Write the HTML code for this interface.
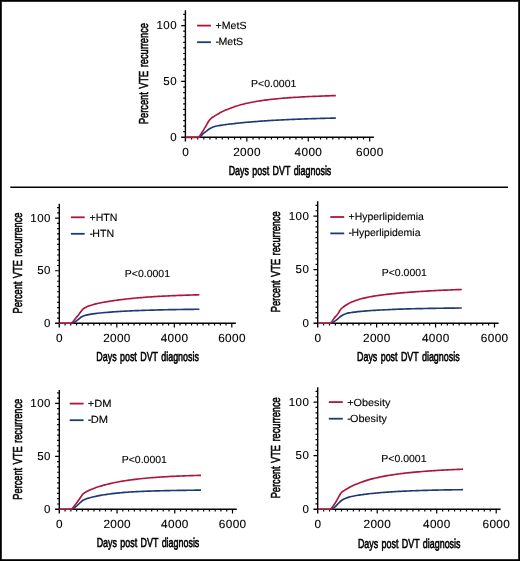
<!DOCTYPE html>
<html><head><meta charset="utf-8"><style>
html,body{margin:0;padding:0;background:#fff;}
body{width:520px;height:561px;overflow:hidden;}
svg{display:block;will-change:transform;}
text{font-family:"Liberation Sans", sans-serif;fill:#000;text-rendering:geometricPrecision;}
</style></head><body>
<svg width="520" height="561" viewBox="0 0 520 561">
<rect x="0" y="0" width="520" height="561" fill="#fff"/>
<rect x="0.9" y="0.9" width="518.2" height="559.2" fill="none" stroke="#000" stroke-width="1.8"/>
<path d="M10.3,187.3H508" stroke="#000" stroke-width="1.5"/>
<path d="M185.40,10.30 V141.50" stroke="#000" stroke-width="1.4" fill="none"/>
<path d="M181.20,137.30 H373.90" stroke="#000" stroke-width="1.4" fill="none"/>
<path d="M183.20,131.72H185.40M183.20,126.13H185.40M183.20,120.55H185.40M183.20,114.96H185.40M183.20,109.38H185.40M183.20,103.79H185.40M183.20,98.21H185.40M183.20,92.62H185.40M183.20,87.03H185.40M181.20,81.45H185.40M183.20,75.87H185.40M183.20,70.28H185.40M183.20,64.69H185.40M183.20,59.11H185.40M183.20,53.52H185.40M183.20,47.94H185.40M183.20,42.35H185.40M183.20,36.77H185.40M183.20,31.18H185.40M181.20,25.60H185.40M183.20,20.01H185.40M183.20,14.43H185.40M191.54,137.30V139.50M197.69,137.30V139.50M203.83,137.30V139.50M209.97,137.30V139.50M216.12,137.30V139.50M222.26,137.30V139.50M228.40,137.30V139.50M234.55,137.30V139.50M240.69,137.30V139.50M246.83,137.30V141.50M252.98,137.30V139.50M259.12,137.30V139.50M265.26,137.30V139.50M271.41,137.30V139.50M277.55,137.30V139.50M283.69,137.30V139.50M289.84,137.30V139.50M295.98,137.30V139.50M302.12,137.30V139.50M308.27,137.30V141.50M314.41,137.30V139.50M320.55,137.30V139.50M326.70,137.30V139.50M332.84,137.30V139.50M338.98,137.30V139.50M345.13,137.30V139.50M351.27,137.30V139.50M357.41,137.30V139.50M363.56,137.30V139.50M369.70,137.30V141.50" stroke="#000" stroke-width="1.2" fill="none"/>
<text transform="translate(177.10,140.70)" font-size="11.5" text-anchor="end" style="letter-spacing:0.5px;stroke:#000;stroke-width:0.12px;">0</text>
<text transform="translate(177.10,84.85)" font-size="11.5" text-anchor="end" style="letter-spacing:0.5px;stroke:#000;stroke-width:0.12px;">50</text>
<text transform="translate(177.10,29.00)" font-size="11.5" text-anchor="end" style="letter-spacing:0.5px;stroke:#000;stroke-width:0.12px;">100</text>
<text transform="translate(185.58,156.20)" font-size="11.8" text-anchor="middle" style="letter-spacing:0.35px;stroke:#000;stroke-width:0.12px;">0</text>
<text transform="translate(247.01,156.20)" font-size="11.8" text-anchor="middle" style="letter-spacing:0.35px;stroke:#000;stroke-width:0.12px;">2000</text>
<text transform="translate(308.44,156.20)" font-size="11.8" text-anchor="middle" style="letter-spacing:0.35px;stroke:#000;stroke-width:0.12px;">4000</text>
<text transform="translate(369.88,156.20)" font-size="11.8" text-anchor="middle" style="letter-spacing:0.35px;stroke:#000;stroke-width:0.12px;">6000</text>
<text transform="translate(280.00,174.70) scale(0.686,1)" font-size="13.0" text-anchor="middle" style="word-spacing:1.3px;stroke:#000;stroke-width:0.6px;">Days post DVT diagnosis</text>
<text transform="translate(148.20,73.60) rotate(-90) scale(0.711,1)" font-size="13.0" text-anchor="middle" style="word-spacing:1.3px;stroke:#000;stroke-width:0.6px;">Percent VTE recurrence</text>
<path d="M197.10,25.60H210.90" stroke="#ad1539" stroke-width="1.8"/>
<path d="M197.10,42.20H210.90" stroke="#1d3b73" stroke-width="1.8"/>
<text transform="translate(215.60,28.90) scale(1.020,1)" font-size="10.4" text-anchor="start" style="stroke:#000;stroke-width:0.12px;">+MetS</text>
<text transform="translate(215.60,45.40) scale(1.020,1)" font-size="10.4" text-anchor="start" style="stroke:#000;stroke-width:0.12px;">-<tspan dx="-0.7">MetS</tspan></text>
<text transform="translate(251.10,87.10) scale(1.030,1)" font-size="10.2" text-anchor="start" style="stroke:#000;stroke-width:0.12px;">P&lt;0.0001</text>
<path d="M198.20,137.40 C198.77,137.23 199.33,137.15 199.90,136.90 C200.90,136.47 201.90,134.80 202.90,133.90 C204.17,132.76 205.43,131.72 206.70,130.80 C207.97,129.88 209.23,129.02 210.50,128.32 C211.34,127.86 212.17,127.40 213.01,127.09 C213.84,126.77 214.68,126.54 215.51,126.32 C216.35,126.11 217.18,125.94 218.02,125.78 C218.85,125.62 219.69,125.48 220.52,125.34 C221.36,125.21 222.19,125.09 223.03,124.97 C223.87,124.85 224.70,124.73 225.54,124.62 C226.37,124.51 227.21,124.40 228.04,124.30 C228.88,124.19 229.71,124.09 230.55,123.99 C231.38,123.89 232.22,123.80 233.05,123.70 C233.89,123.61 234.72,123.51 235.56,123.42 C236.40,123.33 237.23,123.24 238.07,123.16 C238.90,123.07 239.74,122.98 240.57,122.90 C241.41,122.81 242.24,122.73 243.08,122.65 C243.91,122.57 244.75,122.49 245.58,122.42 C246.42,122.34 247.25,122.26 248.09,122.19 C248.93,122.12 249.76,122.04 250.60,121.97 C251.43,121.90 252.27,121.83 253.10,121.76 C253.94,121.69 254.77,121.63 255.61,121.56 C256.44,121.50 257.28,121.43 258.11,121.37 C258.95,121.31 259.78,121.25 260.62,121.19 C261.46,121.13 262.29,121.07 263.13,121.01 C263.96,120.95 264.80,120.89 265.63,120.84 C266.47,120.78 267.30,120.73 268.14,120.67 C268.97,120.62 269.81,120.57 270.64,120.52 C271.48,120.47 272.31,120.42 273.15,120.37 C273.99,120.32 274.82,120.27 275.66,120.22 C276.49,120.18 277.33,120.13 278.16,120.08 C279.00,120.04 279.83,120.00 280.67,119.95 C281.50,119.91 282.34,119.87 283.17,119.82 C284.01,119.78 284.84,119.74 285.68,119.70 C286.52,119.66 287.35,119.62 288.19,119.58 C289.02,119.55 289.86,119.51 290.69,119.47 C291.53,119.43 292.36,119.40 293.20,119.36 C294.03,119.33 294.87,119.29 295.70,119.26 C296.54,119.22 297.37,119.19 298.21,119.16 C299.05,119.13 299.88,119.09 300.72,119.06 C301.55,119.03 302.39,119.00 303.22,118.97 C304.06,118.94 304.89,118.91 305.73,118.88 C306.56,118.85 307.40,118.83 308.23,118.80 C309.07,118.77 309.90,118.74 310.74,118.72 C311.58,118.69 312.41,118.66 313.25,118.64 C314.08,118.61 314.92,118.59 315.75,118.56 C316.59,118.54 317.42,118.52 318.26,118.49 C319.09,118.47 319.93,118.45 320.76,118.42 C321.60,118.40 322.43,118.38 323.27,118.36 C324.11,118.34 324.94,118.31 325.78,118.29 C326.61,118.27 327.45,118.25 328.28,118.23 C329.12,118.21 329.95,118.19 330.79,118.17 C331.62,118.16 332.46,118.14 333.29,118.12 C334.13,118.10 334.96,118.08 335.80,118.06" stroke="#1d3b73" stroke-width="1.65" fill="none" stroke-linejoin="round"/>
<path d="M185.40,137.40 C189.60,137.40 193.80,137.40 198.00,137.40 C198.40,137.40 198.80,136.96 199.20,136.60 C199.97,135.92 200.73,134.27 201.50,133.10 C202.27,131.93 203.03,130.84 203.80,129.60 C204.53,128.41 205.27,127.07 206.00,125.80 C206.63,124.70 207.27,123.53 207.90,122.50 C208.40,121.69 208.90,120.82 209.40,120.20 C210.07,119.37 210.73,118.70 211.40,118.15 C212.25,117.45 213.09,116.98 213.94,116.44 C214.79,115.89 215.63,115.37 216.48,114.86 C217.32,114.36 218.17,113.88 219.02,113.41 C219.86,112.95 220.71,112.50 221.56,112.08 C222.40,111.65 223.25,111.24 224.09,110.85 C224.94,110.45 225.79,110.08 226.63,109.71 C227.48,109.35 228.33,109.00 229.17,108.67 C230.02,108.33 230.86,108.01 231.71,107.70 C232.56,107.40 233.40,107.10 234.25,106.81 C235.10,106.53 235.94,106.26 236.79,105.99 C237.63,105.73 238.48,105.48 239.33,105.24 C240.17,104.99 241.02,104.76 241.87,104.54 C242.71,104.31 243.56,104.10 244.40,103.89 C245.25,103.68 246.10,103.48 246.94,103.29 C247.79,103.10 248.64,102.91 249.48,102.74 C250.33,102.56 251.17,102.39 252.02,102.22 C252.87,102.06 253.71,101.90 254.56,101.75 C255.41,101.60 256.25,101.45 257.10,101.31 C257.94,101.17 258.79,101.03 259.64,100.90 C260.48,100.77 261.33,100.64 262.18,100.52 C263.02,100.39 263.87,100.28 264.71,100.16 C265.56,100.05 266.41,99.94 267.25,99.83 C268.10,99.73 268.95,99.63 269.79,99.53 C270.64,99.43 271.48,99.33 272.33,99.24 C273.18,99.15 274.02,99.06 274.87,98.97 C275.72,98.89 276.56,98.80 277.41,98.72 C278.25,98.64 279.10,98.56 279.95,98.49 C280.79,98.41 281.64,98.34 282.49,98.27 C283.33,98.20 284.18,98.13 285.02,98.06 C285.87,98.00 286.72,97.93 287.56,97.87 C288.41,97.81 289.26,97.75 290.10,97.69 C290.95,97.63 291.79,97.57 292.64,97.51 C293.49,97.46 294.33,97.40 295.18,97.35 C296.03,97.30 296.87,97.25 297.72,97.20 C298.56,97.15 299.41,97.10 300.26,97.05 C301.10,97.00 301.95,96.96 302.80,96.91 C303.64,96.87 304.49,96.82 305.33,96.78 C306.18,96.74 307.03,96.70 307.87,96.66 C308.72,96.61 309.57,96.57 310.41,96.54 C311.26,96.50 312.10,96.46 312.95,96.42 C313.80,96.38 314.64,96.35 315.49,96.31 C316.34,96.27 317.18,96.24 318.03,96.21 C318.87,96.17 319.72,96.14 320.57,96.10 C321.41,96.07 322.26,96.04 323.11,96.01 C323.95,95.97 324.80,95.94 325.64,95.91 C326.49,95.88 327.34,95.85 328.18,95.82 C329.03,95.79 329.88,95.76 330.72,95.73 C331.57,95.70 332.41,95.67 333.26,95.64 C334.11,95.62 334.95,95.59 335.80,95.56" stroke="#ad1539" stroke-width="1.65" fill="none" stroke-linejoin="round"/>
<path d="M59.30,203.80 V327.50" stroke="#000" stroke-width="1.4" fill="none"/>
<path d="M55.10,323.30 H235.90" stroke="#000" stroke-width="1.4" fill="none"/>
<path d="M57.10,318.05H59.30M57.10,312.79H59.30M57.10,307.54H59.30M57.10,302.28H59.30M57.10,297.02H59.30M57.10,291.77H59.30M57.10,286.51H59.30M57.10,281.26H59.30M57.10,276.00H59.30M55.10,270.75H59.30M57.10,265.50H59.30M57.10,260.24H59.30M57.10,254.99H59.30M57.10,249.73H59.30M57.10,244.47H59.30M57.10,239.22H59.30M57.10,233.97H59.30M57.10,228.71H59.30M57.10,223.45H59.30M55.10,218.20H59.30M57.10,212.94H59.30M57.10,207.69H59.30M65.05,323.30V325.50M70.80,323.30V325.50M76.55,323.30V325.50M82.30,323.30V325.50M88.05,323.30V325.50M93.80,323.30V325.50M99.55,323.30V325.50M105.30,323.30V325.50M111.05,323.30V325.50M116.80,323.30V327.50M122.55,323.30V325.50M128.30,323.30V325.50M134.05,323.30V325.50M139.80,323.30V325.50M145.55,323.30V325.50M151.30,323.30V325.50M157.05,323.30V325.50M162.80,323.30V325.50M168.55,323.30V325.50M174.30,323.30V327.50M180.05,323.30V325.50M185.80,323.30V325.50M191.55,323.30V325.50M197.30,323.30V325.50M203.05,323.30V325.50M208.80,323.30V325.50M214.55,323.30V325.50M220.30,323.30V325.50M226.05,323.30V325.50M231.80,323.30V327.50" stroke="#000" stroke-width="1.2" fill="none"/>
<text transform="translate(51.00,326.70)" font-size="11.5" text-anchor="end" style="letter-spacing:0.5px;stroke:#000;stroke-width:0.12px;">0</text>
<text transform="translate(51.00,274.15)" font-size="11.5" text-anchor="end" style="letter-spacing:0.5px;stroke:#000;stroke-width:0.12px;">50</text>
<text transform="translate(51.00,221.60)" font-size="11.5" text-anchor="end" style="letter-spacing:0.5px;stroke:#000;stroke-width:0.12px;">100</text>
<text transform="translate(59.47,342.20)" font-size="11.8" text-anchor="middle" style="letter-spacing:0.35px;stroke:#000;stroke-width:0.12px;">0</text>
<text transform="translate(116.97,342.20)" font-size="11.8" text-anchor="middle" style="letter-spacing:0.35px;stroke:#000;stroke-width:0.12px;">2000</text>
<text transform="translate(174.48,342.20)" font-size="11.8" text-anchor="middle" style="letter-spacing:0.35px;stroke:#000;stroke-width:0.12px;">4000</text>
<text transform="translate(231.98,342.20)" font-size="11.8" text-anchor="middle" style="letter-spacing:0.35px;stroke:#000;stroke-width:0.12px;">6000</text>
<text transform="translate(147.60,360.60) scale(0.686,1)" font-size="13.0" text-anchor="middle" style="word-spacing:1.3px;stroke:#000;stroke-width:0.6px;">Days post DVT diagnosis</text>
<text transform="translate(22.00,263.00) rotate(-90) scale(0.711,1)" font-size="13.0" text-anchor="middle" style="word-spacing:1.3px;stroke:#000;stroke-width:0.6px;">Percent VTE recurrence</text>
<path d="M70.90,217.30H84.70" stroke="#ad1539" stroke-width="1.8"/>
<path d="M70.90,233.80H84.70" stroke="#1d3b73" stroke-width="1.8"/>
<text transform="translate(89.50,220.90) scale(1.020,1)" font-size="10.4" text-anchor="start" style="stroke:#000;stroke-width:0.12px;">+HTN</text>
<text transform="translate(89.50,237.10) scale(1.020,1)" font-size="10.4" text-anchor="start" style="stroke:#000;stroke-width:0.12px;">-<tspan dx="-0.7">HTN</tspan></text>
<text transform="translate(124.80,276.70) scale(1.030,1)" font-size="10.2" text-anchor="start" style="stroke:#000;stroke-width:0.12px;">P&lt;0.0001</text>
<path d="M71.10,323.20 C71.67,323.13 72.23,323.10 72.80,323.00 C73.83,322.81 74.87,321.97 75.90,321.30 C76.87,320.67 77.83,319.74 78.80,319.00 C79.80,318.24 80.80,317.33 81.80,316.80 C82.83,316.25 83.87,315.83 84.90,315.50 C85.75,315.23 86.60,315.02 87.44,314.83 C88.29,314.63 89.14,314.47 89.99,314.32 C90.84,314.17 91.69,314.04 92.53,313.91 C93.38,313.79 94.23,313.68 95.08,313.57 C95.93,313.46 96.77,313.37 97.62,313.27 C98.47,313.18 99.32,313.09 100.17,313.00 C101.01,312.92 101.86,312.84 102.71,312.76 C103.56,312.68 104.41,312.61 105.26,312.53 C106.10,312.46 106.95,312.39 107.80,312.32 C108.65,312.25 109.50,312.19 110.34,312.12 C111.19,312.06 112.04,312.00 112.89,311.94 C113.74,311.88 114.59,311.82 115.43,311.76 C116.28,311.71 117.13,311.65 117.98,311.60 C118.83,311.54 119.67,311.49 120.52,311.44 C121.37,311.39 122.22,311.34 123.07,311.30 C123.91,311.25 124.76,311.20 125.61,311.16 C126.46,311.11 127.31,311.07 128.16,311.03 C129.00,310.98 129.85,310.94 130.70,310.90 C131.55,310.86 132.40,310.82 133.24,310.78 C134.09,310.75 134.94,310.71 135.79,310.67 C136.64,310.64 137.49,310.60 138.33,310.57 C139.18,310.54 140.03,310.50 140.88,310.47 C141.73,310.44 142.57,310.41 143.42,310.38 C144.27,310.35 145.12,310.32 145.97,310.29 C146.81,310.26 147.66,310.23 148.51,310.21 C149.36,310.18 150.21,310.15 151.06,310.13 C151.90,310.10 152.75,310.08 153.60,310.06 C154.45,310.03 155.30,310.01 156.14,309.99 C156.99,309.96 157.84,309.94 158.69,309.92 C159.54,309.90 160.39,309.88 161.23,309.86 C162.08,309.84 162.93,309.82 163.78,309.80 C164.63,309.78 165.47,309.76 166.32,309.74 C167.17,309.72 168.02,309.71 168.87,309.69 C169.71,309.67 170.56,309.66 171.41,309.64 C172.26,309.62 173.11,309.61 173.96,309.59 C174.80,309.58 175.65,309.56 176.50,309.55 C177.35,309.53 178.20,309.52 179.04,309.51 C179.89,309.49 180.74,309.48 181.59,309.47 C182.44,309.45 183.29,309.44 184.13,309.43 C184.98,309.42 185.83,309.41 186.68,309.39 C187.53,309.38 188.37,309.37 189.22,309.36 C190.07,309.35 190.92,309.34 191.77,309.33 C192.61,309.32 193.46,309.31 194.31,309.30 C195.16,309.29 196.01,309.28 196.86,309.27 C197.70,309.26 198.55,309.25 199.40,309.24" stroke="#1d3b73" stroke-width="1.65" fill="none" stroke-linejoin="round"/>
<path d="M59.10,323.20 C63.03,323.20 66.97,323.20 70.90,323.20 C71.53,323.20 72.17,322.37 72.80,321.80 C73.83,320.87 74.87,319.27 75.90,318.00 C76.93,316.73 77.97,315.53 79.00,314.20 C79.77,313.21 80.53,312.03 81.30,311.10 C82.03,310.21 82.77,309.25 83.50,308.68 C84.34,308.03 85.18,307.62 86.02,307.20 C86.86,306.78 87.70,306.42 88.54,306.09 C89.38,305.77 90.22,305.48 91.06,305.22 C91.90,304.95 92.74,304.72 93.58,304.49 C94.42,304.26 95.26,304.06 96.10,303.86 C96.94,303.66 97.78,303.47 98.62,303.29 C99.46,303.11 100.30,302.94 101.14,302.77 C101.98,302.60 102.82,302.44 103.66,302.29 C104.50,302.14 105.34,301.99 106.18,301.84 C107.02,301.70 107.86,301.55 108.70,301.42 C109.54,301.28 110.38,301.15 111.22,301.02 C112.06,300.89 112.89,300.76 113.73,300.64 C114.57,300.52 115.41,300.40 116.25,300.28 C117.09,300.17 117.93,300.05 118.77,299.94 C119.61,299.83 120.45,299.73 121.29,299.62 C122.13,299.52 122.97,299.42 123.81,299.32 C124.65,299.22 125.49,299.12 126.33,299.03 C127.17,298.93 128.01,298.84 128.85,298.75 C129.69,298.66 130.53,298.58 131.37,298.49 C132.21,298.41 133.05,298.32 133.89,298.24 C134.73,298.16 135.57,298.08 136.41,298.01 C137.25,297.93 138.09,297.86 138.93,297.78 C139.77,297.71 140.61,297.64 141.45,297.57 C142.29,297.50 143.13,297.44 143.97,297.37 C144.81,297.31 145.65,297.24 146.49,297.18 C147.33,297.12 148.17,297.06 149.01,297.00 C149.85,296.94 150.69,296.88 151.53,296.83 C152.37,296.77 153.21,296.72 154.05,296.66 C154.89,296.61 155.73,296.56 156.57,296.51 C157.41,296.46 158.25,296.41 159.09,296.36 C159.93,296.31 160.77,296.27 161.61,296.22 C162.45,296.18 163.29,296.13 164.13,296.09 C164.97,296.05 165.81,296.00 166.65,295.96 C167.49,295.92 168.33,295.88 169.17,295.84 C170.01,295.81 170.84,295.77 171.68,295.73 C172.52,295.69 173.36,295.66 174.20,295.62 C175.04,295.59 175.88,295.55 176.72,295.52 C177.56,295.49 178.40,295.46 179.24,295.42 C180.08,295.39 180.92,295.36 181.76,295.33 C182.60,295.30 183.44,295.27 184.28,295.24 C185.12,295.22 185.96,295.19 186.80,295.16 C187.64,295.13 188.48,295.11 189.32,295.08 C190.16,295.06 191.00,295.03 191.84,295.01 C192.68,294.98 193.52,294.96 194.36,294.94 C195.20,294.91 196.04,294.89 196.88,294.87 C197.72,294.85 198.56,294.83 199.40,294.80" stroke="#ad1539" stroke-width="1.65" fill="none" stroke-linejoin="round"/>
<path d="M317.70,201.20 V327.50" stroke="#000" stroke-width="1.4" fill="none"/>
<path d="M313.50,323.30 H498.60" stroke="#000" stroke-width="1.4" fill="none"/>
<path d="M315.50,317.94H317.70M315.50,312.58H317.70M315.50,307.22H317.70M315.50,301.86H317.70M315.50,296.50H317.70M315.50,291.14H317.70M315.50,285.78H317.70M315.50,280.42H317.70M315.50,275.06H317.70M313.50,269.70H317.70M315.50,264.34H317.70M315.50,258.98H317.70M315.50,253.62H317.70M315.50,248.26H317.70M315.50,242.90H317.70M315.50,237.54H317.70M315.50,232.18H317.70M315.50,226.82H317.70M315.50,221.46H317.70M313.50,216.10H317.70M315.50,210.74H317.70M315.50,205.38H317.70M323.59,323.30V325.50M329.49,323.30V325.50M335.38,323.30V325.50M341.27,323.30V325.50M347.17,323.30V325.50M353.06,323.30V325.50M358.95,323.30V325.50M364.85,323.30V325.50M370.74,323.30V325.50M376.63,323.30V327.50M382.53,323.30V325.50M388.42,323.30V325.50M394.31,323.30V325.50M400.21,323.30V325.50M406.10,323.30V325.50M411.99,323.30V325.50M417.89,323.30V325.50M423.78,323.30V325.50M429.67,323.30V325.50M435.57,323.30V327.50M441.46,323.30V325.50M447.35,323.30V325.50M453.25,323.30V325.50M459.14,323.30V325.50M465.03,323.30V325.50M470.93,323.30V325.50M476.82,323.30V325.50M482.71,323.30V325.50M488.61,323.30V325.50M494.50,323.30V327.50" stroke="#000" stroke-width="1.2" fill="none"/>
<text transform="translate(309.40,326.70)" font-size="11.5" text-anchor="end" style="letter-spacing:0.5px;stroke:#000;stroke-width:0.12px;">0</text>
<text transform="translate(309.40,273.10)" font-size="11.5" text-anchor="end" style="letter-spacing:0.5px;stroke:#000;stroke-width:0.12px;">50</text>
<text transform="translate(309.40,219.50)" font-size="11.5" text-anchor="end" style="letter-spacing:0.5px;stroke:#000;stroke-width:0.12px;">100</text>
<text transform="translate(317.88,342.20)" font-size="11.8" text-anchor="middle" style="letter-spacing:0.35px;stroke:#000;stroke-width:0.12px;">0</text>
<text transform="translate(376.81,342.20)" font-size="11.8" text-anchor="middle" style="letter-spacing:0.35px;stroke:#000;stroke-width:0.12px;">2000</text>
<text transform="translate(435.74,342.20)" font-size="11.8" text-anchor="middle" style="letter-spacing:0.35px;stroke:#000;stroke-width:0.12px;">4000</text>
<text transform="translate(494.68,342.20)" font-size="11.8" text-anchor="middle" style="letter-spacing:0.35px;stroke:#000;stroke-width:0.12px;">6000</text>
<text transform="translate(408.30,361.30) scale(0.686,1)" font-size="13.0" text-anchor="middle" style="word-spacing:1.3px;stroke:#000;stroke-width:0.6px;">Days post DVT diagnosis</text>
<text transform="translate(280.30,261.75) rotate(-90) scale(0.711,1)" font-size="13.0" text-anchor="middle" style="word-spacing:1.3px;stroke:#000;stroke-width:0.6px;">Percent VTE recurrence</text>
<path d="M330.30,217.00H344.20" stroke="#ad1539" stroke-width="1.8"/>
<path d="M330.30,233.40H344.20" stroke="#1d3b73" stroke-width="1.8"/>
<text transform="translate(348.60,220.30) scale(1.005,1)" font-size="10.4" text-anchor="start" style="stroke:#000;stroke-width:0.12px;">+Hyperlipidemia</text>
<text transform="translate(348.60,236.40) scale(1.005,1)" font-size="10.4" text-anchor="start" style="stroke:#000;stroke-width:0.12px;">-<tspan dx="-0.7">Hyperlipidemia</tspan></text>
<text transform="translate(381.70,275.90) scale(1.030,1)" font-size="10.2" text-anchor="start" style="stroke:#000;stroke-width:0.12px;">P&lt;0.0001</text>
<path d="M330.50,323.20 C330.93,323.13 331.37,323.10 331.80,323.00 C332.77,322.78 333.73,321.77 334.70,321.10 C335.73,320.38 336.77,319.61 337.80,318.80 C338.80,318.01 339.80,316.99 340.80,316.30 C341.83,315.59 342.87,314.96 343.90,314.50 C344.74,314.12 345.57,313.81 346.41,313.56 C347.24,313.31 348.08,313.11 348.92,312.93 C349.75,312.76 350.59,312.61 351.43,312.48 C352.26,312.34 353.10,312.23 353.93,312.12 C354.77,312.01 355.61,311.91 356.44,311.82 C357.28,311.73 358.11,311.64 358.95,311.56 C359.79,311.48 360.62,311.40 361.46,311.33 C362.30,311.25 363.13,311.18 363.97,311.11 C364.80,311.04 365.64,310.98 366.48,310.91 C367.31,310.85 368.15,310.79 368.99,310.73 C369.82,310.67 370.66,310.61 371.49,310.55 C372.33,310.50 373.17,310.44 374.00,310.39 C374.84,310.34 375.67,310.28 376.51,310.23 C377.35,310.18 378.18,310.14 379.02,310.09 C379.86,310.04 380.69,310.00 381.53,309.95 C382.36,309.91 383.20,309.86 384.04,309.82 C384.87,309.78 385.71,309.74 386.54,309.70 C387.38,309.66 388.22,309.62 389.05,309.58 C389.89,309.55 390.73,309.51 391.56,309.47 C392.40,309.44 393.23,309.40 394.07,309.37 C394.91,309.34 395.74,309.31 396.58,309.27 C397.41,309.24 398.25,309.21 399.09,309.18 C399.92,309.15 400.76,309.12 401.60,309.10 C402.43,309.07 403.27,309.04 404.10,309.01 C404.94,308.99 405.78,308.96 406.61,308.94 C407.45,308.91 408.29,308.89 409.12,308.86 C409.96,308.84 410.79,308.82 411.63,308.80 C412.47,308.77 413.30,308.75 414.14,308.73 C414.97,308.71 415.81,308.69 416.65,308.67 C417.48,308.65 418.32,308.63 419.16,308.61 C419.99,308.59 420.83,308.57 421.66,308.56 C422.50,308.54 423.34,308.52 424.17,308.51 C425.01,308.49 425.84,308.47 426.68,308.46 C427.52,308.44 428.35,308.43 429.19,308.41 C430.03,308.40 430.86,308.38 431.70,308.37 C432.53,308.35 433.37,308.34 434.21,308.33 C435.04,308.31 435.88,308.30 436.71,308.29 C437.55,308.28 438.39,308.26 439.22,308.25 C440.06,308.24 440.90,308.23 441.73,308.22 C442.57,308.21 443.40,308.20 444.24,308.18 C445.08,308.17 445.91,308.16 446.75,308.15 C447.59,308.14 448.42,308.13 449.26,308.13 C450.09,308.12 450.93,308.11 451.77,308.10 C452.60,308.09 453.44,308.08 454.27,308.07 C455.11,308.06 455.95,308.06 456.78,308.05 C457.62,308.04 458.46,308.03 459.29,308.02 C460.13,308.02 460.96,308.01 461.80,308.00" stroke="#1d3b73" stroke-width="1.65" fill="none" stroke-linejoin="round"/>
<path d="M317.90,323.20 C322.03,323.20 326.17,323.20 330.30,323.20 C330.80,323.20 331.30,322.37 331.80,321.80 C332.53,320.96 333.27,319.38 334.00,318.40 C334.77,317.38 335.53,316.61 336.30,315.70 C336.93,314.94 337.57,314.31 338.20,313.40 C338.70,312.68 339.20,311.56 339.70,310.80 C340.20,310.04 340.70,309.26 341.20,308.75 C342.04,307.88 342.88,307.35 343.71,306.73 C344.55,306.12 345.39,305.55 346.22,305.03 C347.06,304.51 347.90,304.03 348.74,303.58 C349.57,303.14 350.41,302.73 351.25,302.34 C352.09,301.96 352.93,301.60 353.76,301.27 C354.60,300.94 355.44,300.63 356.27,300.34 C357.11,300.05 357.95,299.78 358.79,299.52 C359.62,299.27 360.46,299.03 361.30,298.80 C362.14,298.58 362.98,298.36 363.81,298.16 C364.65,297.96 365.49,297.77 366.32,297.58 C367.16,297.40 368.00,297.23 368.84,297.06 C369.68,296.90 370.51,296.74 371.35,296.59 C372.19,296.44 373.03,296.29 373.86,296.15 C374.70,296.01 375.54,295.88 376.38,295.75 C377.21,295.62 378.05,295.50 378.89,295.38 C379.72,295.26 380.56,295.14 381.40,295.03 C382.24,294.92 383.07,294.81 383.91,294.71 C384.75,294.60 385.59,294.50 386.43,294.40 C387.26,294.30 388.10,294.20 388.94,294.11 C389.77,294.02 390.61,293.93 391.45,293.84 C392.29,293.75 393.12,293.66 393.96,293.58 C394.80,293.49 395.64,293.41 396.48,293.33 C397.31,293.25 398.15,293.17 398.99,293.10 C399.82,293.02 400.66,292.94 401.50,292.87 C402.34,292.80 403.18,292.73 404.01,292.66 C404.85,292.59 405.69,292.52 406.52,292.45 C407.36,292.38 408.20,292.32 409.04,292.25 C409.88,292.19 410.71,292.13 411.55,292.06 C412.39,292.00 413.23,291.94 414.06,291.88 C414.90,291.82 415.74,291.77 416.57,291.71 C417.41,291.65 418.25,291.60 419.09,291.54 C419.93,291.49 420.76,291.43 421.60,291.38 C422.44,291.33 423.28,291.27 424.11,291.22 C424.95,291.17 425.79,291.12 426.62,291.07 C427.46,291.03 428.30,290.98 429.14,290.93 C429.98,290.88 430.81,290.84 431.65,290.79 C432.49,290.75 433.32,290.70 434.16,290.66 C435.00,290.62 435.84,290.57 436.68,290.53 C437.51,290.49 438.35,290.45 439.19,290.41 C440.03,290.37 440.86,290.33 441.70,290.29 C442.54,290.25 443.38,290.21 444.21,290.17 C445.05,290.14 445.89,290.10 446.73,290.06 C447.56,290.03 448.40,289.99 449.24,289.96 C450.07,289.92 450.91,289.89 451.75,289.85 C452.59,289.82 453.43,289.79 454.26,289.75 C455.10,289.72 455.94,289.69 456.78,289.66 C457.61,289.63 458.45,289.60 459.29,289.57 C460.12,289.54 460.96,289.51 461.80,289.48" stroke="#ad1539" stroke-width="1.65" fill="none" stroke-linejoin="round"/>
<path d="M59.30,390.00 V513.50" stroke="#000" stroke-width="1.4" fill="none"/>
<path d="M55.10,509.30 H236.80" stroke="#000" stroke-width="1.4" fill="none"/>
<path d="M57.10,504.00H59.30M57.10,498.71H59.30M57.10,493.42H59.30M57.10,488.12H59.30M57.10,482.82H59.30M57.10,477.53H59.30M57.10,472.24H59.30M57.10,466.94H59.30M57.10,461.64H59.30M55.10,456.35H59.30M57.10,451.06H59.30M57.10,445.76H59.30M57.10,440.46H59.30M57.10,435.17H59.30M57.10,429.88H59.30M57.10,424.58H59.30M57.10,419.28H59.30M57.10,413.99H59.30M57.10,408.69H59.30M55.10,403.40H59.30M57.10,398.10H59.30M57.10,392.81H59.30M65.07,509.30V511.50M70.85,509.30V511.50M76.62,509.30V511.50M82.39,509.30V511.50M88.17,509.30V511.50M93.94,509.30V511.50M99.71,509.30V511.50M105.49,509.30V511.50M111.26,509.30V511.50M117.03,509.30V513.50M122.81,509.30V511.50M128.58,509.30V511.50M134.35,509.30V511.50M140.13,509.30V511.50M145.90,509.30V511.50M151.67,509.30V511.50M157.45,509.30V511.50M163.22,509.30V511.50M168.99,509.30V511.50M174.77,509.30V513.50M180.54,509.30V511.50M186.31,509.30V511.50M192.09,509.30V511.50M197.86,509.30V511.50M203.63,509.30V511.50M209.41,509.30V511.50M215.18,509.30V511.50M220.95,509.30V511.50M226.73,509.30V511.50M232.50,509.30V513.50" stroke="#000" stroke-width="1.2" fill="none"/>
<text transform="translate(51.00,512.70)" font-size="11.5" text-anchor="end" style="letter-spacing:0.5px;stroke:#000;stroke-width:0.12px;">0</text>
<text transform="translate(51.00,459.75)" font-size="11.5" text-anchor="end" style="letter-spacing:0.5px;stroke:#000;stroke-width:0.12px;">50</text>
<text transform="translate(51.00,406.80)" font-size="11.5" text-anchor="end" style="letter-spacing:0.5px;stroke:#000;stroke-width:0.12px;">100</text>
<text transform="translate(59.47,528.20)" font-size="11.8" text-anchor="middle" style="letter-spacing:0.35px;stroke:#000;stroke-width:0.12px;">0</text>
<text transform="translate(117.21,528.20)" font-size="11.8" text-anchor="middle" style="letter-spacing:0.35px;stroke:#000;stroke-width:0.12px;">2000</text>
<text transform="translate(174.94,528.20)" font-size="11.8" text-anchor="middle" style="letter-spacing:0.35px;stroke:#000;stroke-width:0.12px;">4000</text>
<text transform="translate(232.68,528.20)" font-size="11.8" text-anchor="middle" style="letter-spacing:0.35px;stroke:#000;stroke-width:0.12px;">6000</text>
<text transform="translate(148.00,547.10) scale(0.686,1)" font-size="13.0" text-anchor="middle" style="word-spacing:1.3px;stroke:#000;stroke-width:0.6px;">Days post DVT diagnosis</text>
<text transform="translate(21.80,449.25) rotate(-90) scale(0.711,1)" font-size="13.0" text-anchor="middle" style="word-spacing:1.3px;stroke:#000;stroke-width:0.6px;">Percent VTE recurrence</text>
<path d="M69.70,403.60H83.60" stroke="#ad1539" stroke-width="1.8"/>
<path d="M69.70,420.20H83.60" stroke="#1d3b73" stroke-width="1.8"/>
<text transform="translate(87.80,407.10) scale(1.071,1)" font-size="10.4" text-anchor="start" style="stroke:#000;stroke-width:0.12px;">+DM</text>
<text transform="translate(87.80,423.30) scale(1.071,1)" font-size="10.4" text-anchor="start" style="stroke:#000;stroke-width:0.12px;">-<tspan dx="-0.7">DM</tspan></text>
<text transform="translate(121.70,462.90) scale(1.030,1)" font-size="10.2" text-anchor="start" style="stroke:#000;stroke-width:0.12px;">P&lt;0.0001</text>
<path d="M71.50,509.20 C71.93,509.13 72.37,509.10 72.80,509.00 C73.80,508.76 74.80,507.53 75.80,506.70 C76.80,505.87 77.80,504.91 78.80,504.00 C79.70,503.18 80.60,502.26 81.50,501.50 C82.13,500.96 82.77,500.35 83.40,500.00 C84.43,499.43 85.47,499.07 86.50,498.72 C87.35,498.44 88.20,498.22 89.04,497.99 C89.89,497.75 90.74,497.53 91.59,497.31 C92.44,497.10 93.29,496.90 94.13,496.70 C94.98,496.51 95.83,496.32 96.68,496.14 C97.53,495.96 98.37,495.79 99.22,495.63 C100.07,495.47 100.92,495.31 101.77,495.16 C102.61,495.02 103.46,494.87 104.31,494.74 C105.16,494.60 106.01,494.47 106.86,494.35 C107.70,494.23 108.55,494.11 109.40,493.99 C110.25,493.88 111.10,493.77 111.94,493.67 C112.79,493.57 113.64,493.47 114.49,493.37 C115.34,493.28 116.19,493.19 117.03,493.10 C117.88,493.01 118.73,492.93 119.58,492.85 C120.43,492.77 121.27,492.70 122.12,492.63 C122.97,492.55 123.82,492.48 124.67,492.42 C125.51,492.35 126.36,492.29 127.21,492.23 C128.06,492.17 128.91,492.11 129.76,492.05 C130.60,492.00 131.45,491.94 132.30,491.89 C133.15,491.84 134.00,491.79 134.84,491.74 C135.69,491.70 136.54,491.65 137.39,491.61 C138.24,491.56 139.09,491.52 139.93,491.48 C140.78,491.44 141.63,491.40 142.48,491.37 C143.33,491.33 144.17,491.30 145.02,491.26 C145.87,491.23 146.72,491.20 147.57,491.16 C148.41,491.13 149.26,491.10 150.11,491.07 C150.96,491.05 151.81,491.02 152.66,490.99 C153.50,490.96 154.35,490.94 155.20,490.91 C156.05,490.89 156.90,490.87 157.74,490.84 C158.59,490.82 159.44,490.80 160.29,490.78 C161.14,490.76 161.99,490.74 162.83,490.72 C163.68,490.70 164.53,490.68 165.38,490.66 C166.23,490.64 167.07,490.62 167.92,490.60 C168.77,490.59 169.62,490.57 170.47,490.55 C171.31,490.54 172.16,490.52 173.01,490.51 C173.86,490.49 174.71,490.48 175.56,490.46 C176.40,490.45 177.25,490.44 178.10,490.42 C178.95,490.41 179.80,490.40 180.64,490.38 C181.49,490.37 182.34,490.36 183.19,490.35 C184.04,490.34 184.89,490.33 185.73,490.31 C186.58,490.30 187.43,490.29 188.28,490.28 C189.13,490.27 189.97,490.26 190.82,490.25 C191.67,490.24 192.52,490.23 193.37,490.22 C194.21,490.21 195.06,490.20 195.91,490.19 C196.76,490.18 197.61,490.17 198.46,490.17 C199.30,490.16 200.15,490.15 201.00,490.14" stroke="#1d3b73" stroke-width="1.65" fill="none" stroke-linejoin="round"/>
<path d="M59.00,509.20 C63.10,509.20 67.20,509.20 71.30,509.20 C71.80,509.20 72.30,508.32 72.80,507.80 C73.83,506.72 74.87,505.35 75.90,504.00 C76.90,502.69 77.90,501.24 78.90,499.80 C79.67,498.70 80.43,497.47 81.20,496.40 C81.83,495.52 82.47,494.49 83.10,493.90 C83.70,493.34 84.30,492.98 84.90,492.60 C85.74,492.07 86.58,491.64 87.42,491.20 C88.27,490.77 89.11,490.36 89.95,489.98 C90.79,489.60 91.63,489.25 92.47,488.91 C93.31,488.57 94.15,488.25 95.00,487.94 C95.84,487.64 96.68,487.34 97.52,487.06 C98.36,486.78 99.20,486.52 100.04,486.26 C100.88,486.00 101.73,485.76 102.57,485.52 C103.41,485.28 104.25,485.05 105.09,484.83 C105.93,484.61 106.77,484.39 107.62,484.19 C108.46,483.98 109.30,483.78 110.14,483.59 C110.98,483.40 111.82,483.21 112.66,483.03 C113.50,482.85 114.35,482.67 115.19,482.50 C116.03,482.34 116.87,482.17 117.71,482.01 C118.55,481.85 119.39,481.70 120.23,481.55 C121.08,481.40 121.92,481.26 122.76,481.12 C123.60,480.98 124.44,480.84 125.28,480.71 C126.12,480.58 126.97,480.45 127.81,480.33 C128.65,480.21 129.49,480.09 130.33,479.97 C131.17,479.85 132.01,479.74 132.85,479.63 C133.70,479.52 134.54,479.42 135.38,479.32 C136.22,479.21 137.06,479.12 137.90,479.02 C138.74,478.92 139.58,478.83 140.43,478.74 C141.27,478.65 142.11,478.56 142.95,478.48 C143.79,478.39 144.63,478.31 145.47,478.23 C146.32,478.15 147.16,478.07 148.00,478.00 C148.84,477.92 149.68,477.85 150.52,477.78 C151.36,477.71 152.20,477.64 153.05,477.57 C153.89,477.51 154.73,477.44 155.57,477.38 C156.41,477.32 157.25,477.26 158.09,477.20 C158.93,477.14 159.78,477.08 160.62,477.03 C161.46,476.97 162.30,476.92 163.14,476.87 C163.98,476.82 164.82,476.77 165.67,476.72 C166.51,476.67 167.35,476.62 168.19,476.58 C169.03,476.53 169.87,476.49 170.71,476.44 C171.55,476.40 172.40,476.36 173.24,476.32 C174.08,476.28 174.92,476.24 175.76,476.20 C176.60,476.16 177.44,476.13 178.28,476.09 C179.13,476.05 179.97,476.02 180.81,475.99 C181.65,475.95 182.49,475.92 183.33,475.89 C184.17,475.86 185.02,475.83 185.86,475.80 C186.70,475.77 187.54,475.74 188.38,475.71 C189.22,475.68 190.06,475.66 190.90,475.63 C191.75,475.60 192.59,475.58 193.43,475.55 C194.27,475.53 195.11,475.50 195.95,475.48 C196.79,475.46 197.63,475.44 198.48,475.41 C199.32,475.39 200.16,475.37 201.00,475.35" stroke="#ad1539" stroke-width="1.65" fill="none" stroke-linejoin="round"/>
<path d="M317.70,387.20 V513.50" stroke="#000" stroke-width="1.4" fill="none"/>
<path d="M313.50,509.30 H500.60" stroke="#000" stroke-width="1.4" fill="none"/>
<path d="M315.50,503.94H317.70M315.50,498.58H317.70M315.50,493.22H317.70M315.50,487.86H317.70M315.50,482.50H317.70M315.50,477.14H317.70M315.50,471.78H317.70M315.50,466.42H317.70M315.50,461.06H317.70M313.50,455.70H317.70M315.50,450.34H317.70M315.50,444.98H317.70M315.50,439.62H317.70M315.50,434.26H317.70M315.50,428.90H317.70M315.50,423.54H317.70M315.50,418.18H317.70M315.50,412.82H317.70M315.50,407.46H317.70M313.50,402.10H317.70M315.50,396.74H317.70M315.50,391.38H317.70M323.65,509.30V511.50M329.60,509.30V511.50M335.55,509.30V511.50M341.50,509.30V511.50M347.45,509.30V511.50M353.40,509.30V511.50M359.35,509.30V511.50M365.30,509.30V511.50M371.25,509.30V511.50M377.20,509.30V513.50M383.15,509.30V511.50M389.10,509.30V511.50M395.05,509.30V511.50M401.00,509.30V511.50M406.95,509.30V511.50M412.90,509.30V511.50M418.85,509.30V511.50M424.80,509.30V511.50M430.75,509.30V511.50M436.70,509.30V513.50M442.65,509.30V511.50M448.60,509.30V511.50M454.55,509.30V511.50M460.50,509.30V511.50M466.45,509.30V511.50M472.40,509.30V511.50M478.35,509.30V511.50M484.30,509.30V511.50M490.25,509.30V511.50M496.20,509.30V513.50" stroke="#000" stroke-width="1.2" fill="none"/>
<text transform="translate(309.40,512.70)" font-size="11.5" text-anchor="end" style="letter-spacing:0.5px;stroke:#000;stroke-width:0.12px;">0</text>
<text transform="translate(309.40,459.10)" font-size="11.5" text-anchor="end" style="letter-spacing:0.5px;stroke:#000;stroke-width:0.12px;">50</text>
<text transform="translate(309.40,405.50)" font-size="11.5" text-anchor="end" style="letter-spacing:0.5px;stroke:#000;stroke-width:0.12px;">100</text>
<text transform="translate(317.88,528.20)" font-size="11.8" text-anchor="middle" style="letter-spacing:0.35px;stroke:#000;stroke-width:0.12px;">0</text>
<text transform="translate(377.38,528.20)" font-size="11.8" text-anchor="middle" style="letter-spacing:0.35px;stroke:#000;stroke-width:0.12px;">2000</text>
<text transform="translate(436.88,528.20)" font-size="11.8" text-anchor="middle" style="letter-spacing:0.35px;stroke:#000;stroke-width:0.12px;">4000</text>
<text transform="translate(496.38,528.20)" font-size="11.8" text-anchor="middle" style="letter-spacing:0.35px;stroke:#000;stroke-width:0.12px;">6000</text>
<text transform="translate(409.20,547.70) scale(0.686,1)" font-size="13.0" text-anchor="middle" style="word-spacing:1.3px;stroke:#000;stroke-width:0.6px;">Days post DVT diagnosis</text>
<text transform="translate(280.40,447.80) rotate(-90) scale(0.711,1)" font-size="13.0" text-anchor="middle" style="word-spacing:1.3px;stroke:#000;stroke-width:0.6px;">Percent VTE recurrence</text>
<path d="M328.80,402.10H342.80" stroke="#ad1539" stroke-width="1.8"/>
<path d="M328.80,418.70H342.80" stroke="#1d3b73" stroke-width="1.8"/>
<text transform="translate(347.20,406.00) scale(1.045,1)" font-size="10.4" text-anchor="start" style="stroke:#000;stroke-width:0.12px;">+Obesity</text>
<text transform="translate(347.20,421.80) scale(1.045,1)" font-size="10.4" text-anchor="start" style="stroke:#000;stroke-width:0.12px;">-<tspan dx="-0.7">Obesity</tspan></text>
<text transform="translate(381.30,461.70) scale(1.030,1)" font-size="10.2" text-anchor="start" style="stroke:#000;stroke-width:0.12px;">P&lt;0.0001</text>
<path d="M330.50,509.20 C330.93,509.13 331.37,509.10 331.80,509.00 C332.77,508.78 333.73,507.86 334.70,507.10 C335.73,506.28 336.77,505.03 337.80,504.00 C338.80,503.00 339.80,501.76 340.80,501.00 C341.83,500.21 342.87,499.63 343.90,499.10 C344.74,498.67 345.59,498.30 346.43,497.98 C347.28,497.66 348.12,497.40 348.97,497.15 C349.81,496.91 350.66,496.70 351.50,496.50 C352.35,496.31 353.19,496.13 354.04,495.97 C354.88,495.80 355.73,495.65 356.57,495.50 C357.41,495.36 358.26,495.22 359.10,495.09 C359.95,494.96 360.79,494.84 361.64,494.72 C362.48,494.60 363.33,494.49 364.17,494.38 C365.02,494.27 365.86,494.16 366.71,494.06 C367.55,493.96 368.40,493.86 369.24,493.76 C370.09,493.67 370.93,493.58 371.77,493.49 C372.62,493.40 373.46,493.31 374.31,493.23 C375.15,493.15 376.00,493.07 376.84,492.99 C377.69,492.91 378.53,492.83 379.38,492.76 C380.22,492.69 381.07,492.62 381.91,492.55 C382.76,492.48 383.60,492.41 384.44,492.35 C385.29,492.28 386.13,492.22 386.98,492.16 C387.82,492.10 388.67,492.04 389.51,491.98 C390.36,491.92 391.20,491.87 392.05,491.81 C392.89,491.76 393.74,491.71 394.58,491.66 C395.43,491.61 396.27,491.56 397.11,491.51 C397.96,491.46 398.80,491.42 399.65,491.37 C400.49,491.33 401.34,491.28 402.18,491.24 C403.03,491.20 403.87,491.16 404.72,491.12 C405.56,491.08 406.41,491.04 407.25,491.01 C408.10,490.97 408.94,490.93 409.79,490.90 C410.63,490.86 411.47,490.83 412.32,490.80 C413.16,490.76 414.01,490.73 414.85,490.70 C415.70,490.67 416.54,490.64 417.39,490.61 C418.23,490.58 419.08,490.56 419.92,490.53 C420.77,490.50 421.61,490.48 422.46,490.45 C423.30,490.42 424.14,490.40 424.99,490.38 C425.83,490.35 426.68,490.33 427.52,490.31 C428.37,490.28 429.21,490.26 430.06,490.24 C430.90,490.22 431.75,490.20 432.59,490.18 C433.44,490.16 434.28,490.14 435.13,490.12 C435.97,490.10 436.81,490.09 437.66,490.07 C438.50,490.05 439.35,490.03 440.19,490.02 C441.04,490.00 441.88,489.98 442.73,489.97 C443.57,489.95 444.42,489.94 445.26,489.92 C446.11,489.91 446.95,489.89 447.80,489.88 C448.64,489.87 449.49,489.85 450.33,489.84 C451.17,489.83 452.02,489.82 452.86,489.80 C453.71,489.79 454.55,489.78 455.40,489.77 C456.24,489.76 457.09,489.75 457.93,489.74 C458.78,489.73 459.62,489.71 460.47,489.70 C461.31,489.69 462.16,489.69 463.00,489.68" stroke="#1d3b73" stroke-width="1.65" fill="none" stroke-linejoin="round"/>
<path d="M317.80,509.20 C321.97,509.20 326.13,509.20 330.30,509.20 C330.80,509.20 331.30,508.35 331.80,507.80 C332.53,507.00 333.27,505.85 334.00,504.80 C334.77,503.70 335.53,502.57 336.30,501.30 C337.07,500.03 337.83,498.49 338.60,497.10 C339.13,496.13 339.67,495.03 340.20,494.20 C340.67,493.48 341.13,492.72 341.60,492.29 C342.44,491.50 343.29,491.12 344.13,490.57 C344.97,490.03 345.82,489.50 346.66,489.01 C347.50,488.51 348.34,488.03 349.19,487.57 C350.03,487.12 350.87,486.68 351.72,486.26 C352.56,485.84 353.40,485.44 354.25,485.06 C355.09,484.67 355.93,484.31 356.78,483.95 C357.62,483.60 358.46,483.26 359.30,482.94 C360.15,482.61 360.99,482.30 361.83,482.00 C362.68,481.70 363.52,481.41 364.36,481.14 C365.21,480.86 366.05,480.59 366.89,480.34 C367.73,480.08 368.58,479.83 369.42,479.60 C370.26,479.36 371.11,479.13 371.95,478.91 C372.79,478.69 373.64,478.48 374.48,478.27 C375.32,478.07 376.17,477.87 377.01,477.68 C377.85,477.49 378.69,477.31 379.54,477.13 C380.38,476.95 381.22,476.78 382.07,476.61 C382.91,476.45 383.75,476.29 384.60,476.13 C385.44,475.97 386.28,475.82 387.12,475.68 C387.97,475.53 388.81,475.39 389.65,475.25 C390.50,475.12 391.34,474.99 392.18,474.86 C393.03,474.73 393.87,474.60 394.71,474.48 C395.56,474.36 396.40,474.24 397.24,474.13 C398.08,474.02 398.93,473.91 399.77,473.80 C400.61,473.69 401.46,473.59 402.30,473.48 C403.14,473.38 403.99,473.28 404.83,473.19 C405.67,473.09 406.52,473.00 407.36,472.91 C408.20,472.82 409.04,472.73 409.89,472.64 C410.73,472.55 411.57,472.47 412.42,472.39 C413.26,472.31 414.10,472.23 414.95,472.15 C415.79,472.07 416.63,471.99 417.48,471.92 C418.32,471.85 419.16,471.77 420.00,471.70 C420.85,471.63 421.69,471.56 422.53,471.50 C423.38,471.43 424.22,471.36 425.06,471.30 C425.91,471.23 426.75,471.17 427.59,471.11 C428.43,471.05 429.28,470.99 430.12,470.93 C430.96,470.87 431.81,470.81 432.65,470.76 C433.49,470.70 434.34,470.65 435.18,470.59 C436.02,470.54 436.87,470.49 437.71,470.44 C438.55,470.39 439.39,470.34 440.24,470.29 C441.08,470.24 441.92,470.19 442.77,470.14 C443.61,470.09 444.45,470.05 445.30,470.00 C446.14,469.96 446.98,469.91 447.82,469.87 C448.67,469.83 449.51,469.79 450.35,469.74 C451.20,469.70 452.04,469.66 452.88,469.62 C453.73,469.58 454.57,469.54 455.41,469.50 C456.26,469.47 457.10,469.43 457.94,469.39 C458.78,469.35 459.63,469.32 460.47,469.28 C461.31,469.25 462.16,469.21 463.00,469.18" stroke="#ad1539" stroke-width="1.65" fill="none" stroke-linejoin="round"/>
</svg>
</body></html>
